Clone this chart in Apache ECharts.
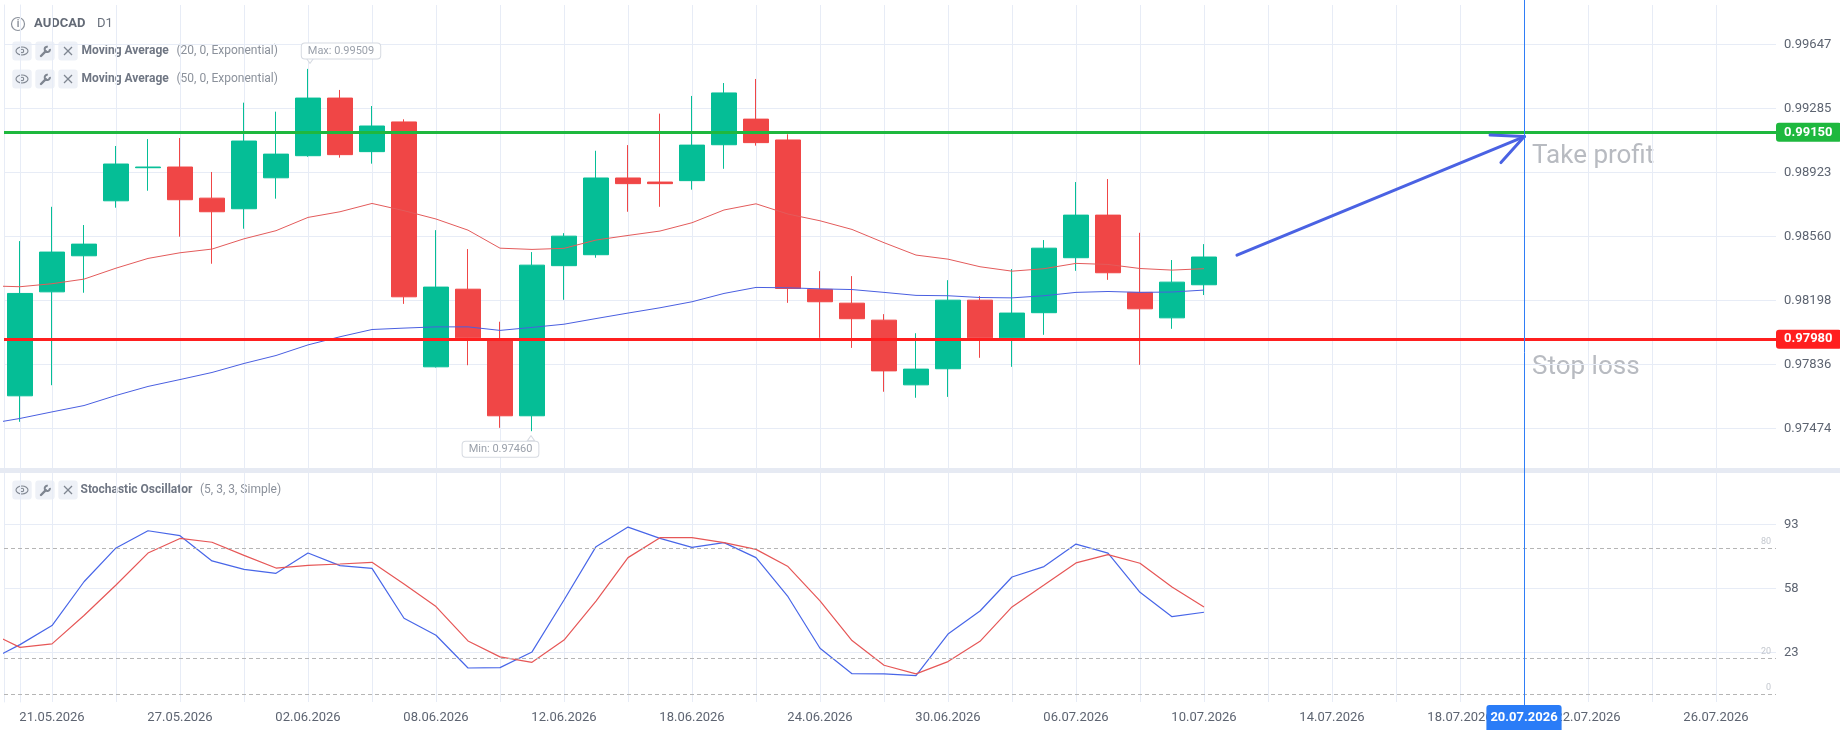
<!DOCTYPE html>
<html><head><meta charset="utf-8">
<script src="https://cdn.jsdelivr.net/npm/echarts@6/dist/echarts.min.js"></script>
<style>html,body{margin:0;padding:0;background:#fff}#c{width:1840px;height:732px}</style>
</head><body><div id="c"></div>
<script>
// ---------- DATA ----------
const dates = ['20.05.2026','21.05.2026','22.05.2026','25.05.2026','26.05.2026','27.05.2026','28.05.2026','29.05.2026',
 '01.06.2026','02.06.2026','03.06.2026','04.06.2026','05.06.2026','08.06.2026','09.06.2026','10.06.2026','11.06.2026','12.06.2026',
 '15.06.2026','16.06.2026','17.06.2026','18.06.2026','19.06.2026','22.06.2026','23.06.2026','24.06.2026','25.06.2026','26.06.2026',
 '29.06.2026','30.06.2026','01.07.2026','02.07.2026','03.07.2026','06.07.2026','07.07.2026','08.07.2026','09.07.2026','10.07.2026',
 '11.07.2026','12.07.2026','13.07.2026','14.07.2026','15.07.2026','16.07.2026','17.07.2026','18.07.2026','19.07.2026','20.07.2026',
 '21.07.2026','22.07.2026','23.07.2026','24.07.2026','25.07.2026','26.07.2026','27.07.2026'];
const opens  = [0.97660,0.98248,0.98452,0.98763,0.98950,0.98954,0.98778,0.98718,0.98893,0.99018,0.99344,0.99041,0.99209,0.97824,0.98263,0.97975,0.97547,0.98396,0.98458,0.98892,0.98869,0.98877,0.99080,0.99225,0.99107,0.98262,0.98184,0.98088,0.97722,0.97813,0.98201,0.97988,0.98130,0.98441,0.98682,0.98245,0.98101,0.98288];
const closes = [0.98239,0.98473,0.98518,0.98971,0.98954,0.98769,0.98701,0.99101,0.99027,0.99344,0.99024,0.99186,0.98220,0.98275,0.97988,0.97547,0.98399,0.98563,0.98892,0.98860,0.98860,0.99078,0.99373,0.99092,0.98267,0.98192,0.98096,0.97801,0.97811,0.98201,0.97988,0.98128,0.98495,0.98682,0.98356,0.98152,0.98303,0.98445];
const lows   = [0.97513,0.97720,0.98243,0.98724,0.98820,0.98560,0.98407,0.98605,0.98775,0.99012,0.99007,0.98973,0.98180,0.97820,0.97833,0.97479,0.97460,0.98203,0.98441,0.98701,0.98729,0.98826,0.98944,0.99075,0.98186,0.97988,0.97931,0.97683,0.97649,0.97654,0.97875,0.97824,0.98005,0.98367,0.98316,0.97835,0.98039,0.98230];
const highs  = [0.98535,0.98729,0.98626,0.99073,0.99112,0.99118,0.98926,0.99318,0.99267,0.99509,0.99390,0.99299,0.99224,0.98597,0.98490,0.98079,0.98473,0.98580,0.99046,0.99078,0.99256,0.99356,0.99429,0.99452,0.99139,0.98365,0.98337,0.98122,0.98014,0.98314,0.98224,0.98377,0.98541,0.98869,0.98886,0.98582,0.98428,0.98518];
// indicator series start one bar before the first candle (19.05.2026)
const ema20 = [0.98282,0.98277,0.98294,0.98320,0.98382,0.98437,0.98469,0.98490,0.98548,0.98594,0.98669,0.98701,0.98748,0.98707,0.98660,0.98597,0.98495,0.98488,0.98494,0.98541,0.98567,0.98592,0.98639,0.98711,0.98746,0.98688,0.98650,0.98601,0.98526,0.98456,0.98433,0.98390,0.98365,0.98379,0.98409,0.98403,0.98380,0.98371,0.98379];
const ema50 = [0.97501,0.97532,0.97569,0.97605,0.97662,0.97713,0.97752,0.97792,0.97843,0.97888,0.97948,0.97994,0.98035,0.98043,0.98050,0.98050,0.98030,0.98047,0.98065,0.98097,0.98128,0.98158,0.98192,0.98239,0.98273,0.98271,0.98265,0.98261,0.98245,0.98228,0.98226,0.98216,0.98214,0.98226,0.98245,0.98250,0.98245,0.98247,0.98258];
const stochK = [18.1,27.2,37.6,61.6,80.1,89.5,86.8,73.0,68.4,66.2,77.3,70.4,68.9,41.6,32.3,14.4,14.6,23.2,51.6,80.8,91.5,85.3,80.4,83.0,74.8,53.4,25.2,11.3,11.2,10.2,33.0,45.6,64.2,69.9,82.2,77.3,55.8,42.5,44.9];
const stochD = [34.1,25.7,27.6,43.1,59.8,77.3,85.3,83.2,76.0,69.1,70.6,71.3,72.2,60.4,48.0,29.2,20.5,17.5,29.7,51.0,74.8,85.7,85.7,83.0,79.3,69.9,51.1,29.4,15.9,11.2,17.9,29.0,47.8,59.8,71.9,76.4,71.7,58.7,47.8];
const priceTicks = [0.97474,0.97836,0.98198,0.98560,0.98923,0.99285,0.99647];
const stochTicks = [23,58,93];
const stochLevels = [80,20,0];
const takeProfit = 0.99150;
const stopLoss = 0.97980;
const crossDate = '20.07.2026';

// ---------- VIEW ----------
const FONT = 'Roboto';
const UP = '#05be96', DOWN = '#f04646';
const GRIDC = '#e7ecf6';
const AXC = '#5d6471';
const X_MIN = -0.5, X_MAX = 54.875;
const P_MIN = 0.972376, P_MAX = 0.998704;
const S_MIN = -4.2, S_MAX = 121.1;
const startIdx = -1;

const labelIdx = [], gridIdx = [];
for (let i = 1; i < dates.length; i += 4) labelIdx.push(i);
for (let i = 1; i < dates.length; i += 2) gridIdx.push(i);
const crossIdx = dates.indexOf(crossDate);

const candleData = opens.map((o, i) => [i, o, closes[i], lows[i], highs[i]]);
const maxHigh = Math.max(...highs), maxIdx = highs.indexOf(maxHigh);
const minLow = Math.min(...lows), minIdx = lows.indexOf(minLow);
const toXY = arr => arr.map((v, k) => [k + startIdx, v]);

function xAxisBase(gi) {
  return { type: 'value', gridIndex: gi, min: X_MIN, max: X_MAX, axisLine: { show: false },
    axisTick: { show: false, customValues: gridIdx },
    splitLine: { show: true, lineStyle: { color: GRIDC, width: 1 } },
    axisLabel: { show: false } };
}
function edgeAxis(gi, min, max) {
  return { type: 'value', gridIndex: gi, position: 'left', min, max,
    axisLine: { show: true, lineStyle: { color: GRIDC } }, axisTick: { show: false },
    axisLabel: { show: false }, splitLine: { show: false } };
}

const iconC = '#7f8691';
function iconRow(cy) {
  const els = [];
  [22, 45, 68].forEach(cx => els.push({ type: 'rect', shape: { x: cx - 9.7, y: cy - 9.5, width: 19.4, height: 19, r: 3 }, style: { fill: '#eef1f7' } }));
  els.push({ type: 'ellipse', shape: { cx: 22, cy: cy, rx: 6, ry: 4 }, style: { fill: 'none', stroke: iconC, lineWidth: 1.1 } });
  els.push({ type: 'circle', shape: { cx: 22, cy: cy, r: 1.7 }, style: { fill: 'none', stroke: iconC, lineWidth: 1.1 } });
  els.push({ type: 'line', shape: { x1: 41, y1: cy + 5, x2: 45.8, y2: cy + 0.2 }, style: { stroke: iconC, lineWidth: 2.4, lineCap: 'round' } });
  els.push({ type: 'arc', shape: { cx: 47.3, cy: cy - 1.6, r: 2.6, startAngle: -0.15, endAngle: 4.9 }, style: { fill: 'none', stroke: iconC, lineWidth: 2 } });
  els.push({ type: 'line', shape: { x1: 64, y1: cy - 4, x2: 72, y2: cy + 4 }, style: { stroke: iconC, lineWidth: 1.2 } });
  els.push({ type: 'line', shape: { x1: 72, y1: cy - 4, x2: 64, y2: cy + 4 }, style: { stroke: iconC, lineWidth: 1.2 } });
  return els;
}
function txt(x, y, text, size, weight, fill) {
  return { type: 'text', x, y, style: { text, fontFamily: FONT, fontSize: size, fontWeight: weight, fill, verticalAlign: 'middle', align: 'left' } };
}

const graphic = [
  { type: 'rect', shape: { x: 0, y: 468, width: 1840, height: 5 }, style: { fill: '#e6eaf3' }, z: 1 },
  { type: 'circle', shape: { cx: 18, cy: 24, r: 6.5 }, style: { fill: 'none', stroke: '#8c929c', lineWidth: 1.2 } },
  { type: 'text', x: 18, y: 24.5, style: { text: 'i', fontFamily: FONT, fontSize: 10, fontWeight: 'bold', fill: '#8c929c', align: 'center', verticalAlign: 'middle' } },
  txt(34, 24, 'AUDCAD', 13, 'bold', '#636a76'),
  txt(97, 24, 'D1', 13, 'normal', '#6a717d'),
  ...iconRow(51), txt(81.5, 51, 'Moving Average', 12, 'bold', '#6f7683'), txt(176.5, 51, '(20, 0, Exponential)', 12, 'normal', '#8b919b'),
  ...iconRow(79), txt(81.5, 79, 'Moving Average', 12, 'bold', '#6f7683'), txt(176.5, 79, '(50, 0, Exponential)', 12, 'normal', '#8b919b'),
  ...iconRow(490), txt(80.5, 490, 'Stochastic Oscillator', 12, 'bold', '#6f7683'), txt(200, 490, '(5, 3, 3, Simple)', 12, 'normal', '#8b919b'),
  txt(1532, 156, 'Take profit', 26, 'normal', '#b8bbc1'),
  txt(1532, 367, 'Stop loss', 26, 'normal', '#b8bbc1')
];

const calloutLabel = { show: true, position: 'inside', fontFamily: FONT, fontSize: 11, color: '#9ba1ab',
  backgroundColor: '#ffffff', borderColor: '#d6dae1', borderWidth: 1, borderRadius: 3, padding: [2, 6, 2, 6] };

const levelLabel = () => ({ show: true, position: 'end', distance: 0, fontFamily: FONT, fontSize: 13, fontWeight: 'bold',
  color: '#ffffff', padding: [3, 9, 3, 8], borderRadius: 3 });

const option = {
  animation: false,
  backgroundColor: '#ffffff',
  textStyle: { fontFamily: FONT },
  grid: [
    { left: 4, right: 64, top: 5, bottom: 261.5 },
    { left: 4, right: 64, top: 473, bottom: 30 },
    { left: 4, right: 64, top: 0, bottom: 27 }
  ],
  xAxis: [
    xAxisBase(0),
    Object.assign(xAxisBase(1), { axisLabel: { show: true, customValues: labelIdx, formatter: v => dates[Math.round(v)], color: AXC, fontSize: 13, fontFamily: FONT, margin: 9 } }),
    { type: 'value', gridIndex: 2, min: X_MIN, max: X_MAX, show: false }
  ],
  yAxis: [
    { type: 'value', gridIndex: 0, position: 'right', min: P_MIN, max: P_MAX,
      axisLine: { show: true, lineStyle: { color: GRIDC } },
      axisTick: { show: false, customValues: priceTicks },
      axisLabel: { customValues: priceTicks, formatter: v => v.toFixed(5), color: AXC, fontSize: 13, fontFamily: FONT, margin: 8 },
      splitLine: { show: true, lineStyle: { color: GRIDC } } },
    edgeAxis(0, P_MIN, P_MAX),
    { type: 'value', gridIndex: 1, position: 'right', min: S_MIN, max: S_MAX,
      axisLine: { show: true, lineStyle: { color: GRIDC } },
      axisTick: { show: false, customValues: stochTicks },
      axisLabel: { customValues: stochTicks, formatter: v => String(Math.round(v)), color: AXC, fontSize: 13, fontFamily: FONT, margin: 8 },
      splitLine: { show: true, lineStyle: { color: GRIDC } } },
    edgeAxis(1, S_MIN, S_MAX),
    { type: 'value', gridIndex: 2, min: 0, max: 1, show: false }
  ],
  series: [
    { type: 'candlestick', name: 'AUDCAD', xAxisIndex: 0, yAxisIndex: 0, data: candleData,
      encode: { x: 0, y: [1, 2, 3, 4] }, barWidth: 26, z: 3,
      itemStyle: { color: UP, color0: DOWN, borderColor: UP, borderColor0: DOWN, borderWidth: 1 },
      markPoint: { silent: true, animation: false, data: [
        { coord: [maxIdx, maxHigh], symbol: 'triangle', symbolRotate: 180, symbolSize: [7, 5], symbolOffset: [2, -8],
          itemStyle: { color: '#ffffff', borderColor: '#d6dae1', borderWidth: 1 }, label: { show: false } },
        { coord: [maxIdx, maxHigh], symbol: 'circle', symbolSize: 0,
          label: Object.assign({}, calloutLabel, { offset: [33, -18], formatter: 'Max: ' + maxHigh.toFixed(5) }) },
        { coord: [minIdx, minLow], symbol: 'triangle', symbolSize: [7, 5], symbolOffset: [-1, 7],
          itemStyle: { color: '#ffffff', borderColor: '#d6dae1', borderWidth: 1 }, label: { show: false } },
        { coord: [minIdx, minLow], symbol: 'circle', symbolSize: 0,
          label: Object.assign({}, calloutLabel, { offset: [-31.5, 18], formatter: 'Min: ' + minLow.toFixed(5) }) }
      ] } },
    { type: 'line', name: 'EMA20', xAxisIndex: 0, yAxisIndex: 0, data: toXY(ema20), symbol: 'none', z: 4,
      lineStyle: { color: '#e35b5b', width: 1 }, clip: true },
    { type: 'line', name: 'EMA50', xAxisIndex: 0, yAxisIndex: 0, data: toXY(ema50), symbol: 'none', z: 4,
      lineStyle: { color: '#4a5fe0', width: 1 }, clip: true },
    { type: 'line', name: 'levels', xAxisIndex: 0, yAxisIndex: 0, data: [], z: 6,
      markLine: { silent: true, animation: false, precision: 5, symbol: ['none', 'none'], data: [
        { yAxis: takeProfit, lineStyle: { color: '#1eb83e', width: 3, type: 'solid' },
          label: Object.assign(levelLabel(), { formatter: takeProfit.toFixed(5), backgroundColor: '#1eb83e' }) },
        { yAxis: stopLoss, lineStyle: { color: '#ff1f1f', width: 3, type: 'solid' },
          label: Object.assign(levelLabel(), { formatter: stopLoss.toFixed(5), backgroundColor: '#ff1f1f' }) }
      ] } },
    { type: 'line', name: 'arrow', xAxisIndex: 0, yAxisIndex: 0, data: [], z: 7,
      markLine: { silent: true, animation: false, precision: 5, symbol: ['none', 'none'],
        lineStyle: { color: '#4a62e3', width: 3, type: 'solid', cap: 'round' }, label: { show: false },
        data: [
          [{ coord: [38.03, 0.98456] }, { coord: [47.01, 0.99126] }],
          [{ coord: [47.01, 0.99126] }, { coord: [45.94, 0.99135] }],
          [{ coord: [47.01, 0.99126] }, { coord: [46.28, 0.98979] }]
        ] } },
    { type: 'line', name: '%K', xAxisIndex: 1, yAxisIndex: 2, data: toXY(stochK), symbol: 'none', z: 4,
      lineStyle: { color: '#4866e8', width: 1.2 } },
    { type: 'line', name: '%D', xAxisIndex: 1, yAxisIndex: 2, data: toXY(stochD), symbol: 'none', z: 4,
      lineStyle: { color: '#e65757', width: 1.2 },
      markLine: { silent: true, animation: false, precision: 2, symbol: ['none', 'none'],
        lineStyle: { color: '#b5b5b5', width: 1, type: [4, 3] },
        label: { show: true, position: 'insideEndTop', distance: [5, 2], fontSize: 9, fontFamily: FONT, color: '#c4c8cf' },
        data: stochLevels.map(v => ({ yAxis: v, label: { formatter: String(v) } })) } },
    { type: 'line', name: 'crosshair', xAxisIndex: 2, yAxisIndex: 4, data: [], z: 20,
      markLine: { silent: true, animation: false, precision: 5, symbol: ['none', 'none'],
        lineStyle: { color: '#2f7df6', width: 1, type: 'solid' },
        label: { show: true, position: 'start', distance: 0, formatter: crossDate, backgroundColor: '#2a7cf7',
          color: '#ffffff', fontWeight: 'bold', fontSize: 13, fontFamily: FONT, padding: [6, 4, 6, 4], borderRadius: [3, 3, 0, 0] },
        data: [{ xAxis: crossIdx }] } }
  ],
  graphic: graphic
};
const chart = echarts.init(document.getElementById('c'));
chart.setOption(option);
</script></body></html>
